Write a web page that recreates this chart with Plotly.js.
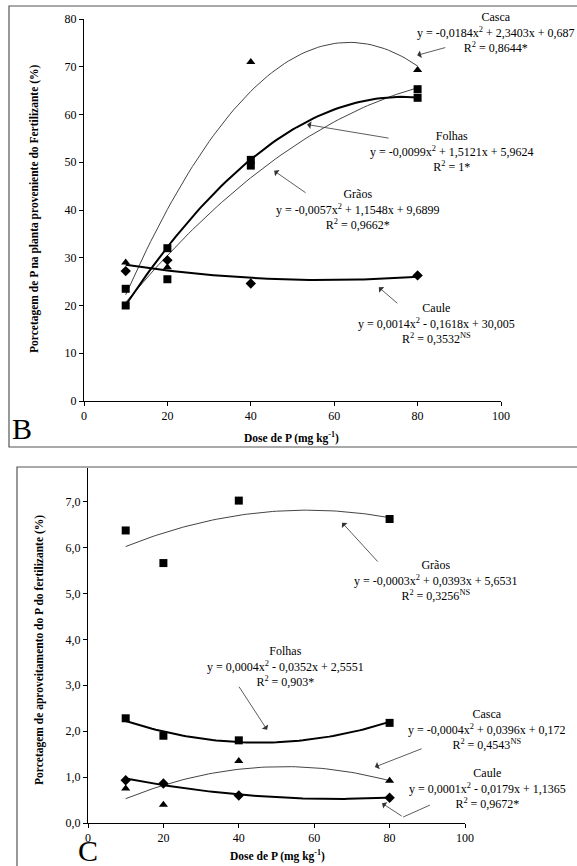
<!DOCTYPE html>
<html>
<head>
<meta charset="utf-8">
<script src="https://cdn.plot.ly/plotly-3.0.1.min.js"></script>
<style>body{margin:0;background:#fff}#chart{width:577px;height:866px}</style>
</head>
<body>
<div id="chart"></div>
<script>
// doses (mg kg-1)
const doses = [10, 20, 40, 80];

// panel B: % of P in plant from fertilizer
const b_casca = [29, 28, 71, 69.3];
const b_folhas = [20, 32, 50.5, 63.5];
const b_graos = [23.5, 25.5, 49.3, 65.3];
const b_caule = [27.2, 29.5, 24.6, 26.3];

// panel C: % use of fertilizer P
const c_graos = [6.37, 5.66, 7.02, 6.62];
const c_folhas = [2.28, 1.9, 1.8, 2.18];
const c_casca = [0.75, 0.4, 1.35, 0.92];
const c_caule = [0.93, 0.86, 0.6, 0.55];

// quadratic trend lines [a, b, c], as drawn in the picture
const fit_b = {casca: [-0.0184, 2.3403, 0.687], folhas: [-0.0099, 1.5121, 5.9624],
               graos: [-0.0057, 1.1548, 9.6899], caule: [0.0014, -0.1618, 30.005]};
const fit_c = {graos: [-0.000342, 0.03975, 5.657], folhas: [0.000376, -0.0341, 2.523],
               casca: [-0.000394, 0.04104, 0.159], caule: [0.000142, -0.01875, 1.1433]};

let curve_x = [];
for (let x = 10; x <= 80; x += 1) curve_x.push(x);

function curve(coef, xa, ya, width) {
    let [a, b, c] = coef;
    return {x: curve_x, y: curve_x.map(x => a * x * x + b * x + c), xaxis: xa, yaxis: ya,
            mode: 'lines', line: {color: width > 1 ? '#000' : '#444', width: width},
            hoverinfo: 'skip'};
}
function points(ys, symbol, xa, ya) {
    return {x: doses, y: ys, xaxis: xa, yaxis: ya, mode: 'markers',
            marker: {symbol: symbol, color: '#000', size: 8}};
}

let data = [
    curve(fit_b.casca, 'x', 'y', 1), curve(fit_b.graos, 'x', 'y', 1),
    curve(fit_b.folhas, 'x', 'y', 2), curve(fit_b.caule, 'x', 'y', 2),
    points(b_casca, 'triangle-up', 'x', 'y'), points(b_folhas, 'square', 'x', 'y'),
    points(b_graos, 'square', 'x', 'y'), points(b_caule, 'diamond', 'x', 'y'),
    curve(fit_c.graos, 'x2', 'y2', 1), curve(fit_c.casca, 'x2', 'y2', 1),
    curve(fit_c.folhas, 'x2', 'y2', 2), curve(fit_c.caule, 'x2', 'y2', 2),
    points(c_graos, 'square', 'x2', 'y2'), points(c_folhas, 'square', 'x2', 'y2'),
    points(c_casca, 'triangle-up', 'x2', 'y2'), points(c_caule, 'diamond', 'x2', 'y2')
];

const serif = 'Liberation Serif, serif';
const axis_common = {showline: true, linecolor: '#000', linewidth: 1, ticks: 'outside',
    ticklen: 4, tickcolor: '#000', showgrid: false, zeroline: false,
    tickfont: {family: serif, size: 12, color: '#000'}};

function label(text, x, y, xref, yref) {
    return {text: text, x: x, y: y, xref: xref, yref: yref, showarrow: false,
            xanchor: 'center', yanchor: 'middle',
            font: {family: serif, size: 12, color: '#000'}, align: 'center'};
}
function arrow(x0, y0, x1, y1, xr, yr) {
    return {x: x1, y: y1, ax: x0, ay: y0, xref: xr, yref: yr, axref: xr, ayref: yr,
            text: '', showarrow: true, arrowhead: 1, arrowsize: 1.6, arrowwidth: 0.8,
            arrowcolor: '#333'};
}
function bold(text, x, y, angle) {
    return {text: '<b>' + text + '</b>', x: x / 577, y: 1 - y / 866, xref: 'paper', yref: 'paper',
            xanchor: 'center', yanchor: 'middle',
            showarrow: false, textangle: angle, font: {family: serif, size: 11.5, color: '#000'}};
}

let annotations = [
    label('Casca<br>y = -0,0184x<sup>2</sup> + 2,3403x + 0,687<br>R<sup>2</sup> = 0,8644*', 496 / 577, 1 - 33 / 866, 'paper', 'paper'),
    label('Folhas<br>y = -0,0099x<sup>2</sup> + 1,5121x + 5,9624<br>R<sup>2</sup> = 1*', 88.2, 52.2, 'x', 'y'),
    label('Grãos<br>y = -0,0057x<sup>2</sup> + 1,1548x + 9,6899<br>R<sup>2</sup> = 0,9662*', 65.7, 40.2, 'x', 'y'),
    label('Caule<br>y = 0,0014x<sup>2</sup> - 0,1618x + 30,005<br>R<sup>2</sup> = 0,3532<sup>NS</sup>', 84.6, 16.2, 'x', 'y'),
    arrow(87, 74.1, 79.9, 72.4, 'x', 'y'),
    arrow(73.4, 55, 53.5, 57.9, 'x', 'y'),
    arrow(53.5, 43.4, 45.6, 48.2, 'x', 'y'),
    arrow(75.5, 20.2, 70.7, 23.8, 'x', 'y'),
    label('Grãos<br>y = -0,0003x<sup>2</sup> + 0,0393x + 5,6531<br>R<sup>2</sup> = 0,3256<sup>NS</sup>', 92.3, 5.27, 'x2', 'y2'),
    label('Folhas<br>y = 0,0004x<sup>2</sup> - 0,0352x + 2,5551<br>R<sup>2</sup> = 0,903*', 52.3, 3.4, 'x2', 'y2'),
    label('Casca<br>y = -0,0004x<sup>2</sup> + 0,0396x + 0,172<br>R<sup>2</sup> = 0,4543<sup>NS</sup>', 487 / 577, 1 - 729 / 866, 'paper', 'paper'),
    label('Caule<br>y = 0,0001x<sup>2</sup> - 0,0179x + 1,1365<br>R<sup>2</sup> = 0,9672*', 487 / 577, 1 - 788 / 866, 'paper', 'paper'),
    arrow(77.2, 5.66, 67.4, 6.54, 'x2', 'y2'),
    arrow(39.8, 3.0, 47.5, 2.03, 'x2', 'y2'),
    arrow(88.9, 1.63, 76.1, 1.22, 'x2', 'y2'),
    arrow(83.6, 0.13, 78, 0.43, 'x2', 'y2'),
    // axis titles and panel letters
    bold('Dose de P (mg kg<sup>-1</sup>)', 292, 437, 0),
    bold('Dose de P (mg kg<sup>-1</sup>)', 277, 855, 0),
    bold('Porcetagem de P na planta proveniente do Fertilizante (%)', 35, 209, -90),
    bold('Porcetagem de aproveitamento do P do fertilizante (%)', 39, 650, -90),
    {text: 'B', x: 22 / 577, y: 1 - 428 / 866, xref: 'paper', yref: 'paper', showarrow: false,
     xanchor: 'center', yanchor: 'middle', font: {family: serif, size: 30, color: '#000'}},
    {text: 'C', x: 88 / 577, y: 1 - 850 / 866, xref: 'paper', yref: 'paper', showarrow: false,
     xanchor: 'center', yanchor: 'middle', font: {family: serif, size: 30, color: '#000'}}
];

let shapes = [
    {type: 'rect', xref: 'paper', yref: 'paper', x0: 9 / 577, x1: 1.01, y0: 1 - 447 / 866, y1: 1 - 6 / 866,
     line: {color: '#555', width: 1.2}},
    {type: 'rect', xref: 'paper', yref: 'paper', x0: 17 / 577, x1: 1.01, y0: -0.01, y1: 1 - 467 / 866,
     line: {color: '#555', width: 1.2}},
    {type: 'line', xref: 'x2', yref: 'y2', x0: 90.7, y0: 0.39, x1: 83.6, y1: 0.13, line: {color: '#333', width: 0.8}}
];

let layout = {
    width: 577, height: 866, margin: {l: 0, r: 0, t: 0, b: 0},
    paper_bgcolor: '#fff', plot_bgcolor: '#fff', showlegend: false, separators: ',.',
    font: {family: serif},
    xaxis: {...axis_common, domain: [84 / 577, 501 / 577], range: [0, 100], dtick: 20, anchor: 'y'},
    yaxis: {...axis_common, domain: [1 - 401 / 866, 1 - 19 / 866], range: [0, 80], dtick: 10, anchor: 'x'},
    xaxis2: {...axis_common, domain: [88 / 577, 465 / 577], range: [0, 100], dtick: 20, anchor: 'y2'},
    yaxis2: {...axis_common, domain: [1 - 823 / 866, 1 - 468 / 866], range: [0, 7.73], dtick: 1,
             tickformat: '.1f', anchor: 'x2'},
    annotations: annotations,
    shapes: shapes
};

Plotly.newPlot('chart', data, layout, {staticPlot: true});
</script>
</body>
</html>
